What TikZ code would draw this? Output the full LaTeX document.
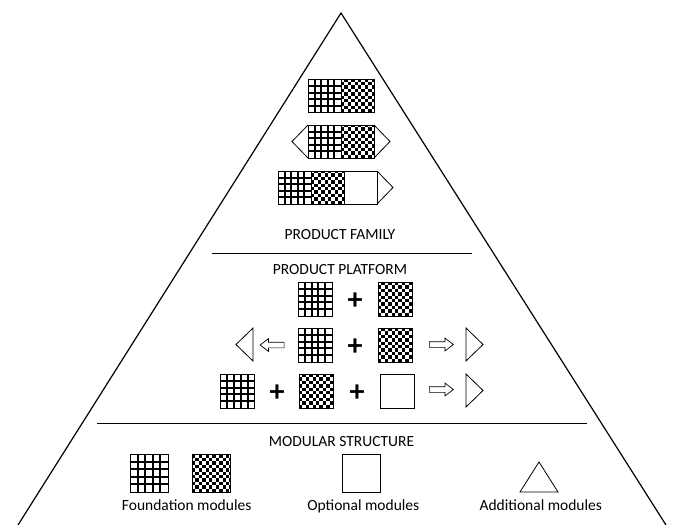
\documentclass[tikz,border=0pt]{standalone}
\usepackage{fontspec}
\setmainfont{Carlito}
\usetikzlibrary{positioning, calc, shapes.arrows}
\tikzset{
  modbox/.style={rectangle, draw=black, line width=0.8pt, inner sep=0pt, outer sep=0pt, minimum size=33pt},
  gridmod/.style={modbox, path picture={
      \foreach \k in {0.2,0.4,0.6,0.8}{
        \draw[line width=1.9pt] ($(path picture bounding box.south west)!\k!(path picture bounding box.south east)$) -- ($(path picture bounding box.north west)!\k!(path picture bounding box.north east)$);
        \draw[line width=1.9pt] ($(path picture bounding box.south west)!\k!(path picture bounding box.north west)$) -- ($(path picture bounding box.south east)!\k!(path picture bounding box.north east)$);
      }}},
  chkmod/.style={modbox, path picture={
      \foreach \i [evaluate=\i as \s using {mod(\i,2)}] in {0,...,11}{
        \foreach \j in {0,2,...,10}{
          \fill ([shift={(\i*3.4pt,{(\j+\s)*3.4pt})}]path picture bounding box.south west) rectangle ++(3.4pt,3.4pt);
        }}}},
  optmod/.style={modbox},
  legendmod/.style={minimum size=38pt},
  plussign/.style={font=\fontsize{30}{30}\selectfont\bfseries, inner sep=0pt},
  hollowarrow/.style={single arrow, draw, line width=0.7pt, inner xsep=0pt, inner ysep=2.5pt, minimum height=24pt, single arrow head extend=3.5pt, single arrow tip angle=75},
  tierlabel/.style={font=\fontsize{15.5}{18}\selectfont},
  legendlabel/.style={font=\fontsize{15.5}{18}\selectfont, anchor=base},
  divider/.style={line width=0.8pt},
  sideline/.style={line width=1.2pt},
  addmod/.style={line width=0.8pt}
}
\begin{document}
\begin{tikzpicture}[x=1pt, y=-1pt]
  \useasboundingbox (0,0) rectangle (675,525);

  % pyramid
  \coordinate (apex) at (341,13);
  \coordinate (baseL) at (18,525);
  \coordinate (baseR) at (666,525);
  \draw[sideline] (baseL) -- (apex) -- (baseR);

  % product family
  \node[gridmod] (fg1) at (324.5,96) {};
  \node[chkmod, right=0pt of fg1] (fc1) {};

  \node[gridmod] (fg2) at (324.5,141.5) {};
  \node[chkmod, right=0pt of fg2] (fc2) {};
  \draw[addmod] (fg2.north west) -- ++(-16,16.5) -- (fg2.south west);
  \draw[addmod] (fc2.north east) -- ++(16,16.5) -- (fc2.south east);

  \node[gridmod] (fg3) at (294.5,187.5) {};
  \node[chkmod, right=0pt of fg3] (fc3) {};
  \node[optmod, right=0pt of fc3] (fo3) {};
  \draw[addmod] (fo3.north east) -- ++(16,16.5) -- (fo3.south east);

  \node[tierlabel] (family) at (340,235) {PRODUCT FAMILY};
  \coordinate (div1L) at (212,253);
  \coordinate (div1R) at (472,253);
  \draw[divider] (div1L) -- (div1R);

  % product platform
  \node[tierlabel] (platform) at (340,270) {PRODUCT PLATFORM};

  \node[gridmod, minimum size=34pt] (pg1) at (315,299) {};
  \node[plussign] (pp1) at (355,301) {+};
  \node[chkmod, minimum size=34pt] (pc1) at (395,299) {};

  \node[gridmod, minimum size=34pt] (pg2) at (315,345) {};
  \node[plussign] (pp2) at (355,347) {+};
  \node[chkmod, minimum size=34pt] (pc2) at (395,345) {};
  \node[hollowarrow, shape border rotate=180] (pa2l) at (274,345) {};
  \node[hollowarrow] (pa2r) at (439.5,344.5) {};
  \coordinate (pt2l) at (253,344.5);
  \coordinate (pt2r) at (466,344.5);
  \draw[addmod] (pt2l) ++(0,-16.5) -- ++(0,33) -- ++(-17,-16.5) -- cycle;
  \draw[addmod] (pt2r) ++(0,-16.5) -- ++(0,33) -- ++(17,-16.5) -- cycle;

  \node[gridmod, minimum size=34pt] (pg3) at (237.5,391) {};
  \node[plussign] (pp3a) at (277,393) {+};
  \node[chkmod, minimum size=34pt] (pc3) at (316,391) {};
  \node[plussign] (pp3b) at (357,393) {+};
  \node[optmod, minimum size=34pt] (po3) at (397,391) {};
  \node[hollowarrow] (pa3r) at (439.5,389.5) {};
  \coordinate (pt3r) at (466,390.5);
  \draw[addmod] (pt3r) ++(0,-16.5) -- ++(0,33) -- ++(17,-16.5) -- cycle;

  \coordinate (div2L) at (97,423.5);
  \coordinate (div2R) at (587,423.5);
  \draw[divider] (div2L) -- (div2R);

  % modular structure
  \node[tierlabel] (modular) at (341.5,441.5) {MODULAR STRUCTURE};
  \node[gridmod, legendmod] (lg) at (149,473) {};
  \node[chkmod, legendmod] (lc) at (211,473) {};
  \node[optmod, legendmod] (lo) at (361.5,473) {};
  \coordinate (la) at (539,462);
  \draw[addmod] (la) -- ++(19,30) -- ++(-38,0) -- cycle;

  \node[legendlabel] (lgtext) at (186.7,510) {Foundation modules};
  \node[legendlabel] (lotext) at (363.3,510) {Optional modules};
  \node[legendlabel] (latext) at (540.8,510) {Additional modules};
\end{tikzpicture}
\end{document}
